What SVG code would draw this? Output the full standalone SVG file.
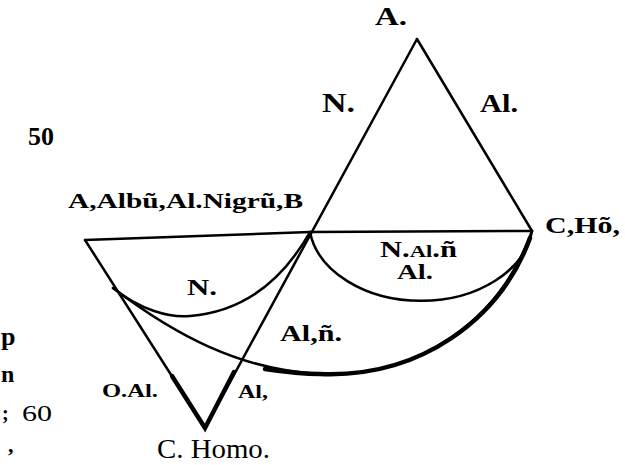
<svg xmlns="http://www.w3.org/2000/svg" width="625" height="465" viewBox="0 0 625 465">
<style>
.ln{fill:none;stroke:#000;stroke-width:2.5;stroke-linecap:round;stroke-linejoin:round}
.thk{fill:none;stroke:#000;stroke-width:4.5;stroke-linecap:round}
.t{font-family:"Liberation Serif","DejaVu Serif",serif;font-weight:bold;fill:#000}
.m{font-family:"Liberation Serif","DejaVu Serif",serif;fill:#000}
</style>
<rect width="625" height="465" fill="#fff"/>
<g id="connectors">
<path class="ln" d="M417,39 L205,428"/>
<path class="ln" d="M417,39 L532,231"/>
<path class="ln" d="M85,240 L310,232 L532,231"/>
<path class="ln" d="M85,240 L205,428"/>
<path class="ln" d="M113,288 C140,310 170,318 190,316 C240,312 280,285 310,232"/>
<path class="ln" d="M310,232 A112,80 0 0 0 532,231"/>
<path class="ln" d="M113,288 C175,335 240,370 320,374 C420,378 500,320 532,231"/>
<path class="thk" d="M172,376 L205,428 L234,372"/>
<path class="thk" d="M265,369 C285,372 300,374 320,374 C420,378 500,320 530,238"/>
</g>
<g id="node-A"><text class="t" x="375" y="25" font-size="26" textLength="32" lengthAdjust="spacingAndGlyphs">A.</text></g>
<g id="label-N-top"><text class="t" x="322" y="112" font-size="27" textLength="33" lengthAdjust="spacingAndGlyphs">N.</text></g>
<g id="label-Al-top"><text class="t" x="480" y="112" font-size="26" textLength="38" lengthAdjust="spacingAndGlyphs">Al.</text></g>
<g id="node-B"><text class="t" x="68" y="208" font-size="22" textLength="235" lengthAdjust="spacingAndGlyphs">A,Albũ,Al.Nigrũ,B</text></g>
<g id="node-CHo"><text class="t" x="545" y="233" font-size="24" textLength="75" lengthAdjust="spacingAndGlyphs">C,Hõ,</text></g>
<g id="label-NAln"><text class="t" x="380" y="257" font-size="23" textLength="77" lengthAdjust="spacingAndGlyphs">N.<tspan font-size="17">Al</tspan>.ñ</text></g>
<g id="label-Al-mid"><text class="t" x="397" y="279" font-size="22" textLength="36" lengthAdjust="spacingAndGlyphs">Al.</text></g>
<g id="label-N-left"><text class="t" x="187" y="295" font-size="24" textLength="30" lengthAdjust="spacingAndGlyphs">N.</text></g>
<g id="label-Aln"><text class="t" x="280" y="341" font-size="24" textLength="62" lengthAdjust="spacingAndGlyphs">Al,ñ.</text></g>
<g id="label-OAl"><text class="t" x="102" y="397" font-size="19" textLength="56" lengthAdjust="spacingAndGlyphs">O.Al.</text></g>
<g id="label-Al-low"><text class="t" x="238" y="398" font-size="19" textLength="30" lengthAdjust="spacingAndGlyphs">Al,</text></g>
<g id="node-CHomo"><text class="m" x="157" y="458" font-size="27" textLength="113" lengthAdjust="spacingAndGlyphs">C. Homo.</text></g>
<g id="margin">
<text class="t" x="28" y="145" font-size="26" textLength="26" lengthAdjust="spacingAndGlyphs">50</text>
<text class="t" x="1" y="345" font-size="26">p</text>
<text class="t" x="1" y="382" font-size="24">n</text>
<text class="t" x="2" y="420" font-size="20">;</text>
<text class="m" x="22" y="421" font-size="24" textLength="30" lengthAdjust="spacingAndGlyphs">60</text>
<text class="t" x="8" y="452" font-size="22">,</text>
</g>
</svg>
